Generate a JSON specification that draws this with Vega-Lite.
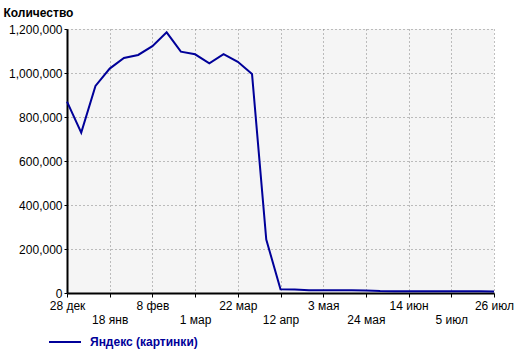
{
  "$schema": "https://vega.github.io/schema/vega-lite/v6.json",
  "width": 427,
  "height": 264,
  "autosize": {"type": "none"},
  "padding": {"left": 67, "top": 29, "right": 26, "bottom": 60},
  "background": "white",
  "config": {
    "font": "Liberation Sans",
    "view": {"fill": "#f5f5f5", "stroke": null},
    "axis": {
      "labelFont": "Liberation Sans",
      "labelFontSize": 12,
      "labelColor": "#000000",
      "domainColor": "#000000",
      "domainWidth": 2,
      "tickColor": "#000000",
      "tickSize": 4,
      "gridColor": "#808080",
      "gridDash": [1, 3],
      "gridWidth": 1,
      "gridOpacity": 1
    }
  },
  "data": {
    "values": [
      {"date": "2009-12-28", "count": 870000, "series": "Яндекс (картинки)"},
      {"date": "2010-01-04", "count": 729000, "series": "Яндекс (картинки)"},
      {"date": "2010-01-11", "count": 941000, "series": "Яндекс (картинки)"},
      {"date": "2010-01-18", "count": 1020000, "series": "Яндекс (картинки)"},
      {"date": "2010-01-25", "count": 1068000, "series": "Яндекс (картинки)"},
      {"date": "2010-02-01", "count": 1082000, "series": "Яндекс (картинки)"},
      {"date": "2010-02-08", "count": 1122000, "series": "Яндекс (картинки)"},
      {"date": "2010-02-15", "count": 1185000, "series": "Яндекс (картинки)"},
      {"date": "2010-02-22", "count": 1097000, "series": "Яндекс (картинки)"},
      {"date": "2010-03-01", "count": 1085000, "series": "Яндекс (картинки)"},
      {"date": "2010-03-08", "count": 1044000, "series": "Яндекс (картинки)"},
      {"date": "2010-03-15", "count": 1086000, "series": "Яндекс (картинки)"},
      {"date": "2010-03-22", "count": 1051000, "series": "Яндекс (картинки)"},
      {"date": "2010-03-29", "count": 995000, "series": "Яндекс (картинки)"},
      {"date": "2010-04-05", "count": 243000, "series": "Яндекс (картинки)"},
      {"date": "2010-04-12", "count": 17000, "series": "Яндекс (картинки)"},
      {"date": "2010-04-19", "count": 16000, "series": "Яндекс (картинки)"},
      {"date": "2010-04-26", "count": 13000, "series": "Яндекс (картинки)"},
      {"date": "2010-05-03", "count": 12500, "series": "Яндекс (картинки)"},
      {"date": "2010-05-10", "count": 12000, "series": "Яндекс (картинки)"},
      {"date": "2010-05-17", "count": 12000, "series": "Яндекс (картинки)"},
      {"date": "2010-05-24", "count": 11500, "series": "Яндекс (картинки)"},
      {"date": "2010-05-31", "count": 9000, "series": "Яндекс (картинки)"},
      {"date": "2010-06-07", "count": 8500, "series": "Яндекс (картинки)"},
      {"date": "2010-06-14", "count": 8500, "series": "Яндекс (картинки)"},
      {"date": "2010-06-21", "count": 8000, "series": "Яндекс (картинки)"},
      {"date": "2010-06-28", "count": 8000, "series": "Яндекс (картинки)"},
      {"date": "2010-07-05", "count": 8000, "series": "Яндекс (картинки)"},
      {"date": "2010-07-12", "count": 7500, "series": "Яндекс (картинки)"},
      {"date": "2010-07-19", "count": 7500, "series": "Яндекс (картинки)"},
      {"date": "2010-07-26", "count": 7000, "series": "Яндекс (картинки)"}
    ]
  },
  "mark": {"type": "line", "strokeWidth": 2, "interpolate": "linear"},
  "encoding": {
    "x": {
      "field": "date",
      "type": "temporal",
      "scale": {
        "type": "utc",
        "domain": [
          {"year": 2009, "month": 12, "date": 28, "utc": true},
          {"year": 2010, "month": 7, "date": 26, "utc": true}
        ],
        "nice": false
      },
      "axis": {
        "title": null,
        "values": [
          {"year": 2009, "month": 12, "date": 28, "utc": true},
          {"year": 2010, "month": 1, "date": 18, "utc": true},
          {"year": 2010, "month": 2, "date": 8, "utc": true},
          {"year": 2010, "month": 3, "date": 1, "utc": true},
          {"year": 2010, "month": 3, "date": 22, "utc": true},
          {"year": 2010, "month": 4, "date": 12, "utc": true},
          {"year": 2010, "month": 5, "date": 3, "utc": true},
          {"year": 2010, "month": 5, "date": 24, "utc": true},
          {"year": 2010, "month": 6, "date": 14, "utc": true},
          {"year": 2010, "month": 7, "date": 5, "utc": true},
          {"year": 2010, "month": 7, "date": 26, "utc": true}
        ],
        "labelExpr": "round((datum.value - utc(2009,11,28)) / 1814400000) % 2 == 1 ? [' ', utcdate(datum.value) + ' ' + ['янв','фев','мар','апр','мая','июн','июл','авг','сен','окт','ноя','дек'][utcmonth(datum.value)]] : utcdate(datum.value) + ' ' + ['янв','фев','мар','апр','мая','июн','июл','авг','сен','окт','ноя','дек'][utcmonth(datum.value)]",
        "labelLineHeight": 14,
        "labelPadding": 3,
        "labelOverlap": false,
        "labelFlush": false,
        "grid": true
      }
    },
    "y": {
      "field": "count",
      "type": "quantitative",
      "scale": {"domain": [0, 1200000], "nice": false},
      "axis": {
        "values": [0, 200000, 400000, 600000, 800000, 1000000, 1200000],
        "format": ",d",
        "grid": true,
        "tickSize": 3,
        "labelPadding": 2,
        "title": "Количество",
        "titleAngle": 0,
        "titleAlign": "left",
        "titleBaseline": "middle",
        "titleX": -64,
        "titleY": -17,
        "titleFont": "Liberation Sans",
        "titleFontSize": 12,
        "titleFontWeight": "bold",
        "titleColor": "#000000"
      }
    },
    "color": {
      "field": "series",
      "type": "nominal",
      "scale": {"range": ["#000099"]},
      "legend": {
        "title": null,
        "orient": "none",
        "legendX": -19,
        "legendY": 296,
        "symbolType": "stroke",
        "symbolSize": 1024,
        "symbolStrokeWidth": 2,
        "labelFont": "Liberation Sans",
        "labelFontSize": 12,
        "labelFontWeight": "bold",
        "labelColor": "#000099",
        "labelOffset": 8,
        "labelBaseline": "middle",
        "padding": 0
      }
    }
  }
}
